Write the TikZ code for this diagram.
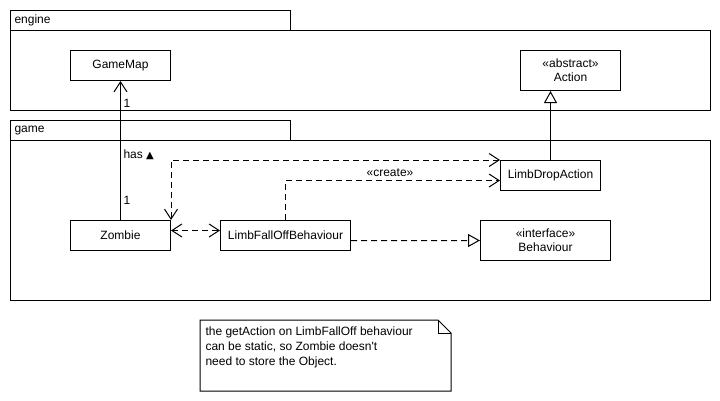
\documentclass[tikz,border=0pt]{standalone}
\usepackage{fontspec}
\setmainfont{Liberation Sans}
\newfontfamily\symfont{DejaVu Sans}
\usetikzlibrary{arrows.meta,calc}
\begin{document}
\begin{tikzpicture}[x=1bp,y=-1bp,line width=1bp,
  every node/.style={font=\fontsize{12bp}{14bp}\selectfont, inner sep=0pt},
  box/.style={draw, fill=white, anchor=north west, align=center},
  cls/.style={box, minimum width=100bp, minimum height=30bp},
  pkgtab/.style={box, minimum width=280bp, minimum height=20bp, text width=272bp, align=left},
  pkgbody/.style={draw, anchor=north west, minimum width=700bp},
  dep/.style={dash pattern=on 6bp off 4bp},
  barb/.style={-{Straight Barb[length=10bp,width=13bp]}},
  dbarb/.style={{Straight Barb[length=10bp,width=13bp]}-{Straight Barb[length=10bp,width=13bp]}},
  realize/.style={-{Triangle[open,length=12bp,width=13bp,fill=white]}},
]
\useasboundingbox (0,0) rectangle (720,400);

% packages
\node[pkgbody, minimum height=80bp] (enginebody) at (10,30) {};
\node[pkgtab] (enginetab) at (10,10) {engine};
\node[pkgbody, minimum height=160bp] (gamebody) at (10,140) {};
\node[pkgtab] (gametab) at (10,120) {game};

% classes
\node[cls] (gamemap) at (70,50) {GameMap};
\node[cls, minimum height=40bp] (action) at (520,50) {\guillemotleft abstract\guillemotright\\Action};
\node[cls] (lda) at (500,160) {LimbDropAction};
\node[cls] (zombie) at (70,220) {Zombie};
\node[cls, minimum width=130bp] (lfob) at (220,220) {LimbFallOffBehaviour};
\node[cls, minimum width=130bp, minimum height=40bp] (beh) at (480,220) {\guillemotleft interface\guillemotright\\Behaviour};

% connectors
\draw[barb] (zombie.north) -- (gamemap.south);
\node[anchor=west] (m1) at (123,103) {1};
\node[anchor=west] (m2) at (123,200) {1};
\node[anchor=west] (has) at (123,155) {has {\symfont\fontsize{10bp}{12bp}\selectfont ▲}};

\draw[realize] (lda.north) -- (lda.north |- action.south);

\draw[dep,dbarb] (lda.north west) -| (zombie.north east);
\coordinate (ldain) at ([yshift=-5bp]lda.west);
\draw[dep,barb] (lfob.north) |- (ldain);
\node (create) at (390,173) {\guillemotleft create\guillemotright};

\draw[dep,dbarb] ([yshift=5bp]zombie.east) -- ([yshift=5bp]lfob.west);
\draw[dep,realize] ([yshift=-5bp]lfob.east) -- (beh.west);

% note
\node[anchor=north west, minimum width=250bp, minimum height=70bp] (note) at (200,320) {};
\draw (note.north west) -- ([xshift=-13bp]note.north east) -- ([yshift=-13bp]note.north east) -- (note.south east) -- (note.south west) -- cycle;
\draw ([xshift=-13bp]note.north east) -- ([xshift=-13bp,yshift=-13bp]note.north east) -- ([yshift=-13bp]note.north east);
\node[anchor=north west, align=left, font=\fontsize{12bp}{15bp}\selectfont] (notetext) at (205,326)
  {the getAction on LimbFallOff behaviour\\can be static, so Zombie doesn\textquotesingle t\\need to store the Object.};
\end{tikzpicture}
\end{document}
